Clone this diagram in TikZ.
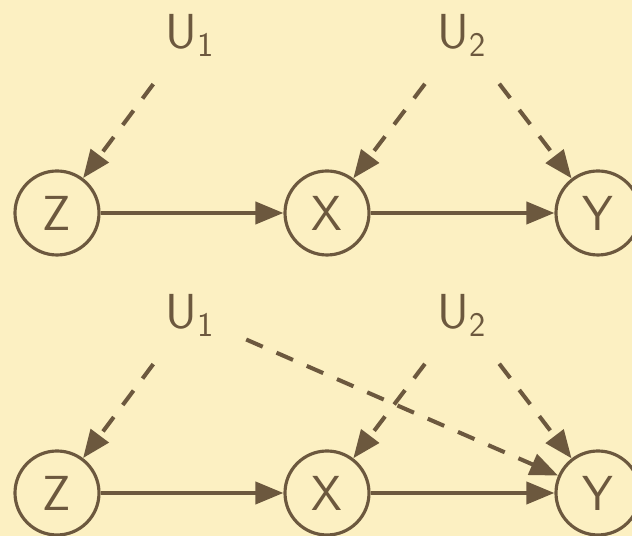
\documentclass[tikz,border=0pt]{standalone}
\usepackage{amsmath}
\usepackage{tikz}
\usetikzlibrary{positioning,arrows.meta}
\definecolor{dagbrown}{HTML}{6C583E}
\definecolor{dagbg}{HTML}{FCF0C2}

\begin{document}
\begin{tikzpicture}[
    font=\sffamily\fontsize{28}{32}\selectfont,
    var/.style={circle,draw=dagbrown,line width=1.8pt,minimum size=1.68cm,inner sep=0pt,text=dagbrown},
    lat/.style={circle,minimum size=1.68cm,inner sep=0pt,text=dagbrown},
    edge/.style={-{Triangle[length=0.56cm,width=0.44cm]},draw=dagbrown,line width=2.3pt},
    conf/.style={edge,dash pattern=on 0.36cm off 0.3cm,shorten <=0.38cm}]
  \fill[dagbg](0,0) rectangle (12.64,10.72);
  \useasboundingbox (0,0) rectangle (12.64,10.72);
  % top graph
  \node[var] (z1) at (1.14,6.46){Z};
  \node[var] (x1) at (6.54,6.46){X};
  \node[var] (y1) at (11.96,6.46){Y};
  \node[lat] (ua1) at (3.8,10.02){U$_{\textsf{1}}$};
  \node[lat] (ub1) at (9.24,10.02){U$_{\textsf{2}}$};
  \draw[edge](z1)--(x1);
  \draw[edge](x1)--(y1);
  \draw[conf](ua1)--(z1);
  \draw[conf](ub1)--(x1);
  \draw[conf](ub1)--(y1);
  % bottom graph, U1 also hits Y
  \node[var] (z2) at (1.14,0.86){Z};
  \node[var] (x2) at (6.54,0.86){X};
  \node[var] (y2) at (11.96,0.86){Y};
  \node[lat] (ua2) at (3.8,4.42){U$_{\textsf{1}}$};
  \node[lat] (ub2) at (9.24,4.42){U$_{\textsf{2}}$};
  \draw[edge](z2)--(x2);
  \draw[edge](x2)--(y2);
  \draw[conf](ua2)--(z2);
  \draw[conf](ub2)--(x2);
  \draw[conf](ub2)--(y2);
  \draw[conf](ua2)--(y2);
\end{tikzpicture}
\end{document}
